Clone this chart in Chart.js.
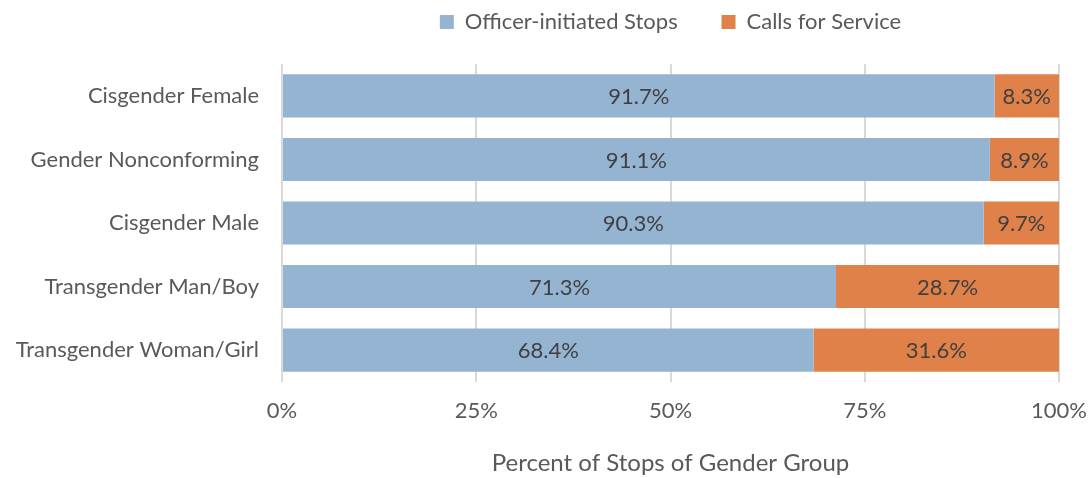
<!DOCTYPE html>
<html>
<head>
<meta charset="utf-8">
<script src="https://cdn.jsdelivr.net/npm/chart.js@4/dist/chart.umd.min.js"></script>
<style>
    html, body { margin: 0; padding: 0; background: #fff; }
    #wrap { width: 1089px; height: 478px; }
</style>
</head>
<body>
<div id="wrap"><canvas id="stopsChart" width="1089" height="478"></canvas></div>
<script>
const categories = ["Cisgender Female", "Gender Nonconforming", "Cisgender Male", "Transgender Man/Boy", "Transgender Woman/Girl"];
const officerInitiated = [91.7, 91.1, 90.3, 71.3, 68.4];
const callsForService = [8.3, 8.9, 9.7, 28.7, 31.6];
const xTicks = [0, 25, 50, 75, 100];

const FONT = "Lato, 'Open Sans', sans-serif";

// draws the percent label in the middle of every bar
const barLabels = {
    id: "barLabels",
    afterDatasetsDraw(chart) {
        const ctx = chart.ctx;
        ctx.save();
        ctx.font = `22px ${FONT}`;
        ctx.fillStyle = "#404040";
        ctx.textAlign = "center";
        ctx.textBaseline = "middle";
        chart.data.datasets.forEach((ds, i) => {
            chart.getDatasetMeta(i).data.forEach((bar, j) => {
                const mid = (bar.x + bar.base) / 2;
                ctx.fillText(ds.data[j].toFixed(1) + "%", mid, bar.y + 1);
            });
        });
        ctx.restore();
    }
};

new Chart(document.getElementById("stopsChart").getContext("2d"), {
    type: "bar",
    data: {
        labels: categories,
        datasets: [
            {
                label: "Officer-initiated Stops",
                data: officerInitiated,
                backgroundColor: "#95b4d2",
                categoryPercentage: 0.68,
                barPercentage: 1
            },
            {
                label: "Calls for Service",
                data: callsForService,
                backgroundColor: "#e0814a",
                categoryPercentage: 0.68,
                barPercentage: 1
            }
        ]
    },
    options: {
        indexAxis: "y",
        responsive: false,
        animation: false,
        layout: { padding: { left: 0, right: 30, top: 1, bottom: 0 } },
        plugins: {
            legend: {
                position: "top",
                weight: 3000,
                fullSize: false,
                labels: {
                    font: { family: FONT, size: 22 },
                    color: "#595959",
                    boxWidth: 14,
                    boxHeight: 14,
                    padding: 10,
                    generateLabels(chart) {
                        const items = Chart.defaults.plugins.legend.labels.generateLabels(chart);
                        // extra room after the first entry, like the original
                        items[0].text += "      ";
                        return items;
                    }
                }
            },
            // empty title used only as a gap under the legend
            title: {
                display: true,
                text: " ",
                weight: 500,
                font: { size: 1 },
                padding: { top: 10, bottom: 10 }
            },
            tooltip: { enabled: false }
        },
        scales: {
            x: {
                stacked: true,
                min: 0,
                max: 100,
                afterBuildTicks(axis) {
                    axis.ticks = xTicks.map((v) => ({ value: v }));
                },
                afterFit(axis) {
                    axis.paddingLeft = 0;
                    axis.paddingRight = 0;
                },
                ticks: {
                    callback: (v) => v + "%",
                    font: { family: FONT, size: 22 },
                    color: "#595959",
                    padding: 16
                },
                grid: { color: "#d9d9d9", lineWidth: 2, drawTicks: false },
                border: { display: false },
                title: {
                    display: true,
                    text: "Percent of Stops of Gender Group",
                    font: { family: FONT, size: 24 },
                    color: "#595959",
                    padding: { top: 9, bottom: 0 }
                }
            },
            y: {
                stacked: true,
                grid: { display: false },
                border: { display: false },
                ticks: {
                    font: { family: FONT, size: 22 },
                    color: "#595959",
                    padding: 15
                },
                afterFit(axis) {
                    axis.width = 282;
                }
            }
        }
    },
    plugins: [barLabels]
});
</script>
</body>
</html>
